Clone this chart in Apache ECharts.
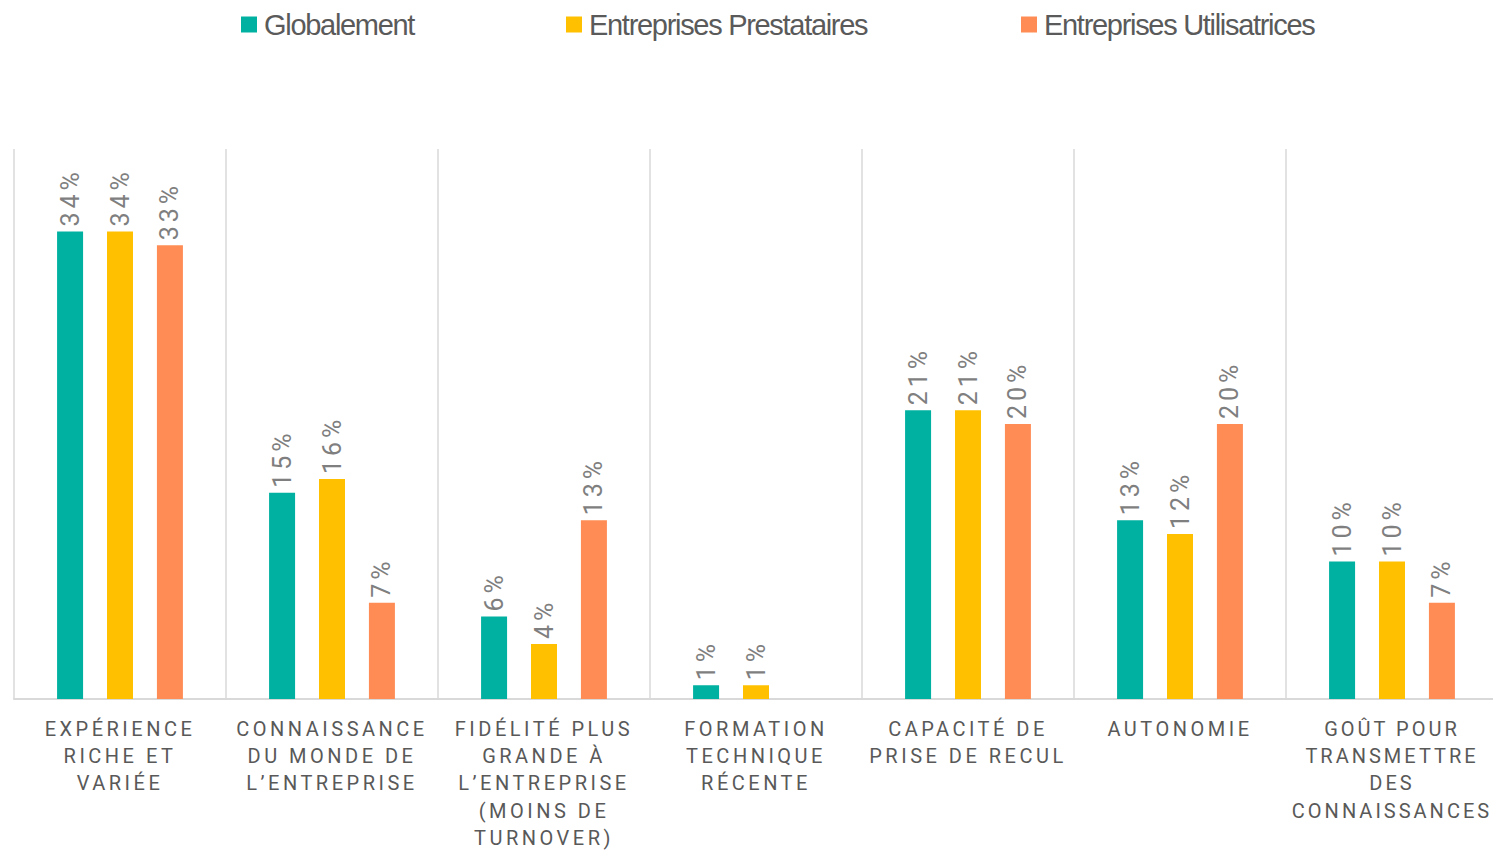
<!DOCTYPE html>
<html>
<head>
<meta charset="utf-8">
<script src="https://cdn.jsdelivr.net/npm/echarts@6/dist/echarts.min.js"></script>
<style>
  html, body { margin: 0; padding: 0; background: #fff; }
  #chart { width: 1493px; height: 850px; }
  /* espacement des lettres : étiquettes d'axe, valeurs, légende */
  #chart text[fill="#595959"] { letter-spacing: 3.5px; }
  #chart text[fill="#595958"] { letter-spacing: 3px; }
  #chart text[fill="#7f7f7f"] { letter-spacing: 4px; }
  #chart text[fill="#5a5a5a"] { letter-spacing: -1.3px; }
</style>
</head>
<body>
<div id="chart"></div>
<script>
const categories = [
  'EXPÉRIENCE\nRICHE ET\nVARIÉE',
  'CONNAISSANCE\nDU MONDE DE\nL’ENTREPRISE',
  'FIDÉLITÉ PLUS\nGRANDE À\nL’ENTREPRISE\n(MOINS DE\nTURNOVER)',
  'FORMATION\nTECHNIQUE\nRÉCENTE',
  'CAPACITÉ DE\nPRISE DE RECUL',
  'AUTONOMIE',
  'GOÛT POUR\nTRANSMETTRE\nDES\nCONNAISSANCES'
]
const globalement = [34, 15, 6, 1, 21, 13, 10]
const prestataires = [34, 16, 4, 1, 21, 12, 10]
const utilisatrices = [33, 7, 13, '-', 20, 20, 7]

const seriesNames = ['Globalement', 'Entreprises Prestataires', 'Entreprises Utilisatrices']
const colors = ['#00B0A0', '#FFC000', '#FF8C55']

const chart = echarts.init(document.getElementById('chart'), null, { renderer: 'svg' })

const valueLabel = {
  show: true,
  position: 'top',
  distance: 5,
  rotate: 90,
  align: 'left',
  verticalAlign: 'middle',
  fontFamily: 'Roboto',
  fontSize: 25,
  color: '#7f7f7f',
  formatter: '{c}%'
}

const legendAt = (name, left) => ({
  data: [name],
  left: left,
  top: 5,
  icon: 'rect',
  itemWidth: 16,
  itemHeight: 16,
  selectedMode: false,
  textStyle: {
    fontFamily: '"Liberation Sans", Arial, sans-serif',
    fontSize: 29,
    color: '#5a5a5a',
    padding: [0, 0, 0, 2]
  }
})

// la dernière étiquette touche le bord droit : espacement un peu plus serré
const xData = categories.map((c, i) =>
  i === categories.length - 1 ? { value: c, textStyle: { color: '#595958' } } : c
)

const option = {
  animation: false,
  color: colors,
  legend: [
    legendAt(seriesNames[0], 236),
    legendAt(seriesNames[1], 561),
    legendAt(seriesNames[2], 1016)
  ],
  grid: { left: 14, width: 1484, top: 149, bottom: 151, outerBoundsMode: 'none', containLabel: false },
  xAxis: {
    type: 'category',
    data: xData,
    axisLine: { lineStyle: { color: '#d9d9d9', width: 2 } },
    axisTick: { show: false },
    splitLine: { show: true, lineStyle: { color: '#d9d9d9', width: 1.5 } },
    axisLabel: {
      interval: 0,
      margin: 16,
      fontFamily: 'Roboto',
      fontSize: 20,
      lineHeight: 27.3,
      color: '#595959'
    }
  },
  yAxis: {
    type: 'value',
    min: 0,
    max: 40,
    show: false,
    splitLine: { show: false }
  },
  series: [
    { name: seriesNames[0], type: 'bar', data: globalement, barWidth: 26, barGap: '92%', label: valueLabel },
    { name: seriesNames[1], type: 'bar', data: prestataires, barWidth: 26, barGap: '92%', label: valueLabel },
    { name: seriesNames[2], type: 'bar', data: utilisatrices, barWidth: 26, barGap: '92%', label: valueLabel }
  ]
}

chart.setOption(option)
</script>
</body>
</html>
